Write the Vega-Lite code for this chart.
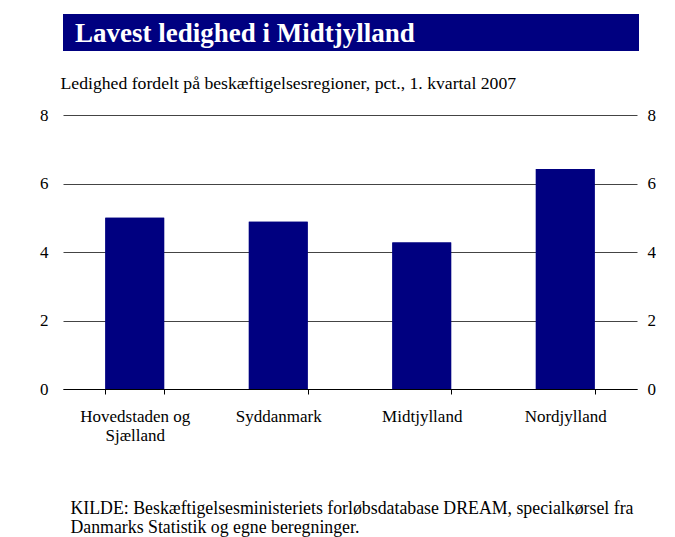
{
  "$schema": "https://vega.github.io/schema/vega-lite/v6.json",
  "padding": {"left": 39, "top": 14, "right": 0, "bottom": 0},
  "background": "white",
  "config": {
    "font": "Liberation Serif, serif",
    "view": {"stroke": null},
    "axis": {"labelFont": "Liberation Serif, serif", "labelFontSize": 17, "labelColor": "black"}
  },
  "title": {
    "text": ["KILDE: Beskæftigelsesministeriets forløbsdatabase DREAM, specialkørsel fra", "Danmarks Statistik og egne beregninger."],
    "orient": "bottom",
    "anchor": "start",
    "font": "Liberation Serif, serif",
    "fontSize": 17.8,
    "fontWeight": "normal",
    "lineHeight": 19,
    "color": "black",
    "offset": 57,
    "dx": 31
  },
  "spacing": 24,
  "vconcat": [
    {
      "width": 576,
      "height": 37,
      "view": {"fill": "#000080", "stroke": null},
      "data": {"values": [{"t": "Lavest ledighed i Midtjylland"}]},
      "mark": {"type": "text", "align": "left", "baseline": "middle", "dx": 12, "dy": 1, "font": "Liberation Serif, serif", "fontSize": 27, "fontWeight": "bold", "color": "white"},
      "encoding": {
        "text": {"field": "t"},
        "x": {"datum": 0, "type": "quantitative", "scale": {"domain": [0, 1]}, "axis": null},
        "y": {"datum": 0.5, "type": "quantitative", "scale": {"domain": [0, 1]}, "axis": null}
      }
    },
    {
      "width": 574,
      "height": 274,
      "title": {
        "text": "Ledighed fordelt på beskæftigelsesregioner, pct., 1. kvartal 2007",
        "anchor": "start",
        "font": "Liberation Serif, serif",
        "fontSize": 17.7,
        "fontWeight": "normal",
        "color": "black",
        "offset": 13,
        "dx": 21
      },
      "data": {"values": [
        {"region": "Hovedstaden og Sjælland", "ledighed": 5.0},
        {"region": "Syddanmark", "ledighed": 4.88},
        {"region": "Midtjylland", "ledighed": 4.28},
        {"region": "Nordjylland", "ledighed": 6.42}
      ]},
      "encoding": {
        "x": {
          "field": "region", "type": "nominal", "sort": null,
          "scale": {"paddingInner": 0.59, "paddingOuter": 0.295},
          "axis": {
            "title": null, "labelAngle": 0, "domainColor": "black", "domainWidth": 1,
            "ticks": true, "tickBand": "extent", "tickColor": "black", "tickSize": 5,
            "labelPadding": 14, "labelLineHeight": 19,
            "labelExpr": "datum.label == 'Hovedstaden og Sjælland' ? ['Hovedstaden og', 'Sjælland'] : datum.label"
          }
        }
      },
      "layer": [
        {
          "mark": {"type": "bar", "color": "#000080"},
          "encoding": {
            "y": {"field": "ledighed", "type": "quantitative", "scale": {"domain": [0, 8]},
              "axis": {"title": null, "values": [0, 2, 4, 6, 8], "domain": false, "ticks": false, "grid": true, "gridColor": "#444444", "gridWidth": 1, "labelPadding": 15}}
          }
        },
        {
          "mark": {"type": "bar", "color": "#000080"},
          "encoding": {
            "y": {"field": "ledighed", "type": "quantitative", "scale": {"domain": [0, 8]},
              "axis": {"title": null, "orient": "right", "values": [0, 2, 4, 6, 8], "domain": false, "ticks": false, "grid": false, "labelPadding": 10}}
          }
        }
      ],
      "resolve": {"axis": {"y": "independent"}}
    }
  ]
}
